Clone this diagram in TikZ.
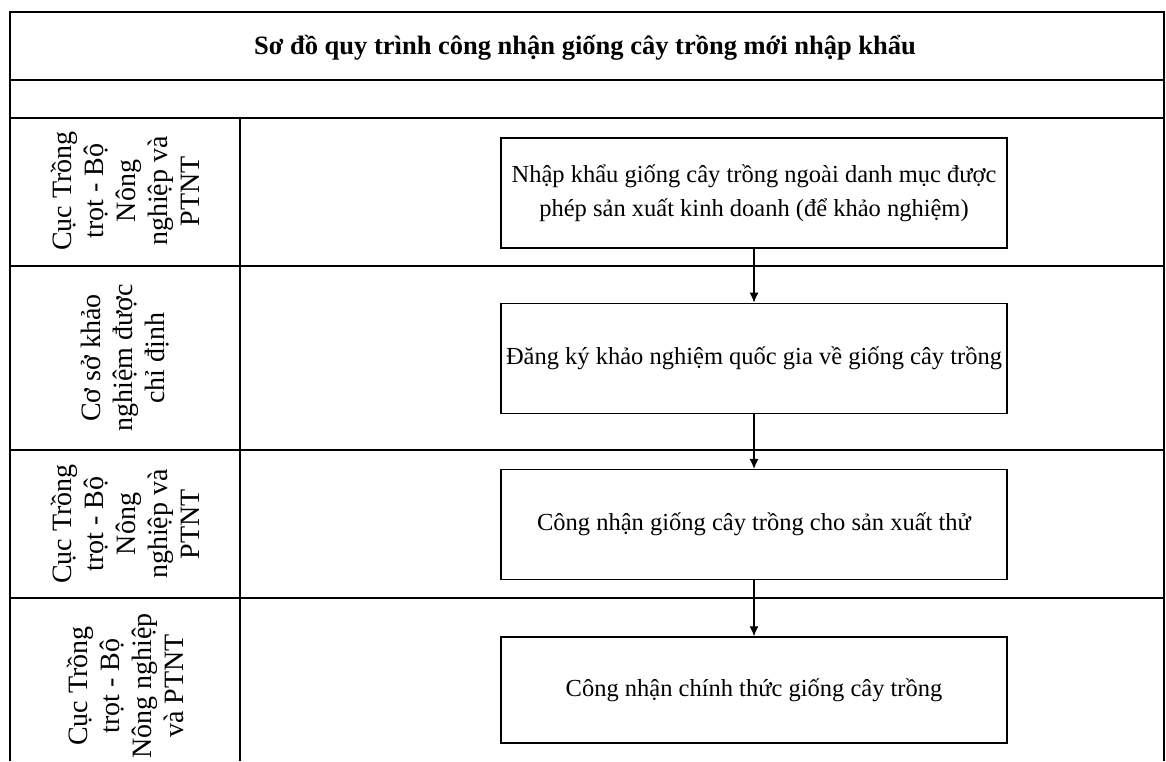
\documentclass[tikz,border=0pt]{standalone}
\usepackage{fontspec}
\setmainfont{Liberation Serif}
\usepackage{tikz}
\usetikzlibrary{positioning, arrows.meta}

\tikzset{
    lane/.style={rotate=90, align=center, inner sep=0pt,
        font=\fontsize{28}{32}\selectfont},
    stage/.style={draw, line width=1.3pt, align=center,
        minimum width=506pt, minimum height=110pt,
        font=\fontsize{24.5}{34}\selectfont},
    grid/.style={line width=1.8pt}
}

\begin{document}
\begin{tikzpicture}[x=1pt, y=-1pt]
    \useasboundingbox (0,0) rectangle (1166,761);
    % the table
    \draw[grid] (10,761) -- (10,12) -- (1164,12) -- (1164,761);
    \draw[grid] (10,80) -- (1164,80);
    \draw[grid] (10,118) -- (1164,118);
    \draw[grid] (10,266) -- (1164,266);
    \draw[grid] (10,450) -- (1164,450);
    \draw[grid] (10,598) -- (1164,598);
    \draw[line width=1.2pt] (240,118) -- (240,761);
    % title
    \node[font=\fontsize{26.5}{30}\selectfont\bfseries] (title) at (585,48)
        {Sơ đồ quy trình công nhận giống cây trồng mới nhập khẩu};
    % the lanes
    \node[lane] (lab1) at (125,191) {Cục Trồng\\trọt - Bộ\\Nông\\nghiệp và\\PTNT};
    \node[lane] (lab2) at (125,358) {Cơ sở khảo\\nghiệm được\\chỉ định};
    \node[lane] (lab3) at (125,524) {Cục Trồng\\trọt - Bộ\\Nông\\nghiệp và\\PTNT};
    \node[lane] (lab4) at (125,686) {Cục Trồng\\trọt - Bộ\\Nông nghiệp\\và PTNT};
    % the stages
    \node[stage] (b1) at (754,193)
        {Nhập khẩu giống cây trồng ngoài danh mục được\\phép sản xuất kinh doanh (để khảo nghiệm)};
    \node[stage,
        below=54pt of b1
        ] (b2) {Đăng ký khảo nghiệm quốc gia về giống cây trồng};
    \node[stage,
        below=55pt of b2
        ] (b3) {Công nhận giống cây trồng cho sản xuất thử};
    \node[stage,
        below=56pt of b3,
        minimum height=106pt
        ] (b4) {Công nhận chính thức giống cây trồng};

    \draw[line width=1.3pt, -{Latex[length=10pt, width=9pt]}]
        (b1) edge (b2)
        (b2) edge (b3)
        (b3) edge (b4);
\end{tikzpicture}
\end{document}
